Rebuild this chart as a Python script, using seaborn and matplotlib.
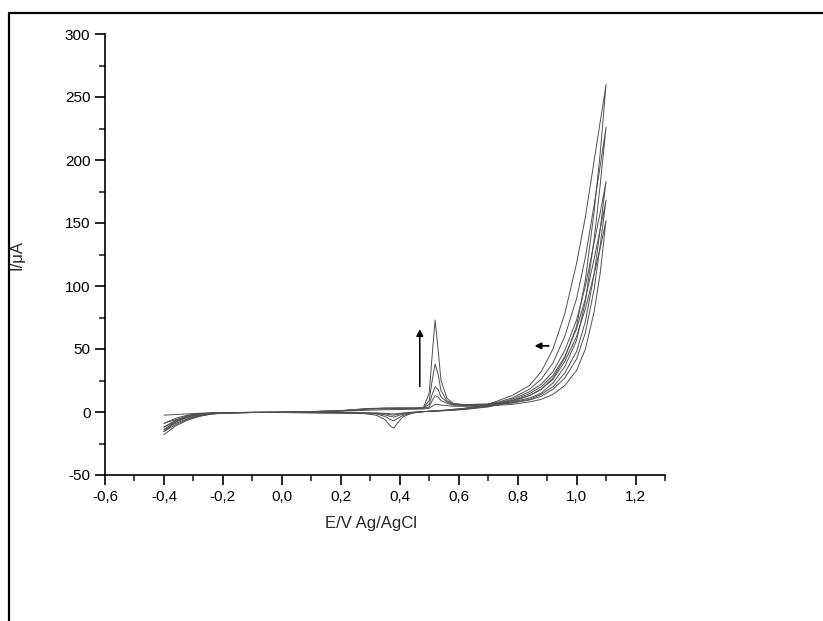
import matplotlib
matplotlib.use("Agg")
import matplotlib.pyplot as plt
from matplotlib.lines import Line2D
from matplotlib.ticker import MultipleLocator, FuncFormatter
import seaborn as sns
import pandas as pd

# DATA HERE
# forward (anodic) scan potentials, V vs Ag/AgCl
e_fwd = [-0.40, -0.36, -0.32, -0.28, -0.24, -0.20, -0.10, 0.00, 0.10, 0.20, 0.25, 0.30,
         0.35, 0.40, 0.45, 0.48, 0.50, 0.51, 0.52, 0.53, 0.54, 0.56, 0.58, 0.62,
         0.70, 0.78, 0.84, 0.88, 0.92, 0.96, 1.00, 1.03, 1.06, 1.08, 1.10]
# reverse (cathodic) scan potentials
e_rev = [1.10, 1.08, 1.06, 1.03, 1.00, 0.96, 0.92, 0.88, 0.84, 0.78, 0.70, 0.62, 0.55,
         0.48, 0.44, 0.41, 0.39, 0.38, 0.37, 0.35, 0.32, 0.28, 0.20, 0.10, 0.00, -0.10,
         -0.20, -0.24, -0.28, -0.32, -0.36, -0.40]

# currents in uA, one list per cycle
i_fwd_1 = [-2.5, -2.0, -1.5, -1.0, -0.7, -0.5, -0.3, -0.1, 0.2, 0.6, 1.0, 1.5,
           1.8, 2.0, 2.2, 2.4, 3.0, 4.5, 6.0, 6.0, 5.5, 5.0, 4.6, 4.5,
           5, 6, 8, 10, 14, 21, 33, 50, 80, 110, 152]
i_fwd_2 = [-9, -5, -2.5, -1.3, -0.8, -0.5, -0.3, -0.1, 0.3, 0.9, 1.6, 2.3,
           2.6, 2.7, 2.8, 3.0, 4, 9, 13, 12, 9, 7, 5.5, 5,
           5.5, 7, 9.5, 12.5, 18, 27, 42, 63, 98, 132, 168]
i_fwd_3 = [-12, -6.5, -3, -1.5, -0.9, -0.6, -0.3, -0.1, 0.3, 1.0, 1.8, 2.6,
           2.9, 3.0, 3.0, 3.2, 6, 14, 20, 18, 12, 8, 6, 5.2,
           6, 7.5, 10, 14, 20, 31, 48, 72, 110, 145, 183]
i_fwd_4 = [-14, -7.5, -3.5, -1.7, -1.0, -0.6, -0.3, -0.1, 0.3, 1.0, 1.9, 2.7,
           3.0, 3.1, 3.1, 3.3, 9, 25, 38, 30, 17, 9, 6.5, 5.5,
           6, 8, 11, 15, 23, 36, 57, 88, 138, 180, 226]
i_fwd_5 = [-15.5, -8, -3.8, -1.8, -1.0, -0.6, -0.3, -0.1, 0.3, 1.1, 2.0, 2.8,
           3.1, 3.2, 3.2, 3.4, 15, 45, 73, 50, 25, 11, 7, 5.8,
           6.5, 9, 13, 18, 27, 43, 68, 105, 160, 205, 260]

i_rev_1 = [152, 130, 110, 82, 60, 40, 26, 18, 13, 8, 4, 2, 1, 0.3, -0.2, -0.8,
           -1.3, -1.5, -1.4, -1.0, -0.8, -0.7, -0.6, -0.5, -0.4, -0.4, -0.7, -1.2,
           -2.2, -3.8, -6, -9]
i_rev_2 = [168, 145, 122, 90, 66, 44, 29, 20, 14.5, 9, 4.5, 2.2, 1.1, 0.3, -0.4, -1.2,
           -2.0, -2.5, -2.3, -1.5, -1.0, -0.8, -0.6, -0.5, -0.4, -0.4, -0.8, -1.4,
           -2.6, -4.5, -7.5, -12]
i_rev_3 = [183, 158, 135, 100, 73, 49, 32, 22, 16, 10, 5, 2.5, 1.2, 0.3, -0.6, -1.8,
           -3.2, -4.0, -3.6, -2.2, -1.2, -0.9, -0.7, -0.5, -0.4, -0.4, -0.8, -1.5,
           -3.0, -5.3, -9, -14]
i_rev_4 = [226, 195, 165, 123, 90, 60, 39, 26, 18, 11, 5.5, 2.8, 1.3, 0.3, -0.8, -2.8,
           -5.5, -7.0, -6.2, -3.5, -1.6, -1.0, -0.7, -0.5, -0.4, -0.4, -0.9, -1.6,
           -3.2, -5.8, -10, -15.5]
i_rev_5 = [260, 230, 200, 155, 118, 78, 50, 32, 21, 13, 6, 3, 1.4, 0.3, -1.0, -4.0,
           -9.5, -12.8, -11.5, -6, -2.5, -1.3, -0.8, -0.5, -0.4, -0.4, -0.9, -1.7,
           -3.5, -6.5, -11, -18]

fwd_cycles = [i_fwd_1, i_fwd_2, i_fwd_3, i_fwd_4, i_fwd_5]
rev_cycles = [i_rev_1, i_rev_2, i_rev_3, i_rev_4, i_rev_5]

# build one long table, each cycle = forward sweep then reverse sweep
rows = []
for k, (f, r) in enumerate(zip(fwd_cycles, rev_cycles), start=1):
    pts = list(zip(e_fwd, f)) + list(zip(e_rev, r))
    for n, (e, i) in enumerate(pts):
        rows.append({"E": e, "I": i, "cycle": k, "step": n})
df = pd.DataFrame(rows)

sns.set_style("ticks")
plt.rcParams['font.family'] = ['Liberation Sans', 'DejaVu Sans']

fig = plt.figure(figsize=(8.23, 6.21), dpi=100)
ax = fig.add_axes([105 / 823, 1 - 475 / 621, 560 / 823, 441 / 621])

sns.lineplot(data=df, x="E", y="I", units="cycle", estimator=None, sort=False,
             color="#505050", linewidth=0.7, ax=ax)

ax.set_xlim(-0.6, 1.3)
ax.set_ylim(-50, 300)
ax.xaxis.set_major_locator(MultipleLocator(0.2))
ax.xaxis.set_minor_locator(MultipleLocator(0.1))
ax.yaxis.set_major_locator(MultipleLocator(50))
ax.yaxis.set_minor_locator(MultipleLocator(25))
ax.xaxis.set_major_formatter(FuncFormatter(lambda v, p: f"{v:.1f}".replace(".", ",").replace("-0,0", "0,0")))
ax.yaxis.set_major_formatter(FuncFormatter(lambda v, p: f"{v:.0f}"))

ax.tick_params(which="major", direction="out", length=7, width=1.2, labelsize=11, colors="k")
ax.tick_params(which="minor", direction="out", length=4, width=1.2)
sns.despine(ax=ax)
for s in ("left", "bottom"):
    ax.spines[s].set_linewidth(1.2)
    ax.spines[s].set_color("k")

ax.set_xlabel("E/V Ag/AgCl", fontsize=12)
ax.set_ylabel("I/\u03bcA", fontsize=12)
ax.xaxis.set_label_coords(0.475, -0.093)
ax.yaxis.set_label_coords(-0.143, 0.5)

# arrows showing the trend over the cycles
ax.annotate("", xy=(0.468, 68), xytext=(0.468, 18),
            arrowprops=dict(arrowstyle="-|>", color="k", lw=1.1, mutation_scale=10))
ax.annotate("", xy=(0.848, 52.5), xytext=(0.915, 52.5),
            arrowprops=dict(arrowstyle="-|>", color="k", lw=1.3, mutation_scale=9))

# outer frame, left and top edges
fig.add_artist(Line2D([9 / 823, 9 / 823, 1.0], [0.0, 1 - 13 / 621, 1 - 13 / 621],
                      transform=fig.transFigure, color="k", linewidth=1.6))

fig.savefig("out.png", dpi=100)
